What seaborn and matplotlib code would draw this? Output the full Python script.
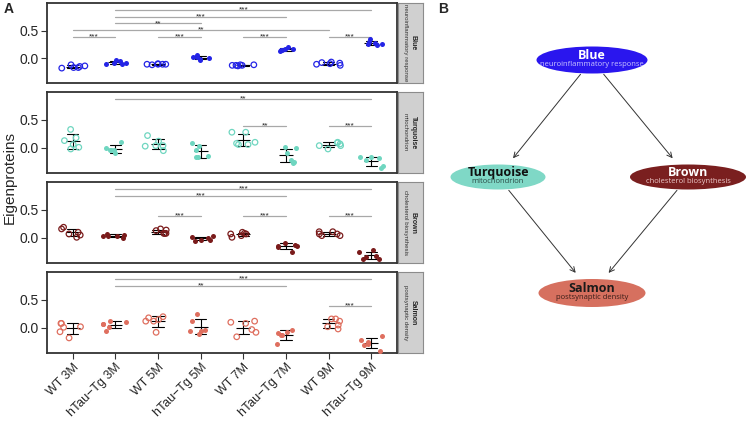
import numpy as np
import pandas as pd
import matplotlib
matplotlib.use("Agg")
import matplotlib.pyplot as plt
import seaborn as sns
from matplotlib.patches import Ellipse

# groups on the x axis
groups = ["WT 3M", "hTau\u2212Tg 3M", "WT 5M", "hTau\u2212Tg 5M",
          "WT 7M", "hTau\u2212Tg 7M", "WT 9M", "hTau\u2212Tg 9M"]
genotype = ["WT", "hTau", "WT", "hTau", "WT", "hTau", "WT", "hTau"]

modules = ["Blue", "Turquoise", "Brown", "Salmon"]
module_terms = ["neuroinflammatory response", "mitochondrion",
                "cholesterol biosynthesis", "postsynaptic density"]
point_colors = ["#2424e6", "#6fd6c0", "#7a1b1b", "#df6f5f"]

# eigenprotein values, one list per group
blue = [[-0.18, -0.15, -0.12, -0.17, -0.14, -0.17],
        [-0.08, -0.10, -0.04, -0.11, -0.05, -0.08],
        [-0.11, -0.11, -0.12, -0.10, -0.11, -0.11],
        [0.02, -0.01, 0.05, -0.04, 0.02, 0.01],
        [-0.12, -0.13, -0.14, -0.12, -0.13, -0.13],
        [0.16, 0.14, 0.20, 0.13, 0.17, 0.15],
        [-0.09, -0.11, -0.07, -0.13, -0.08, -0.10],
        [0.27, 0.25, 0.34, 0.23, 0.30, 0.26]]
turquoise = [[0.13, 0.01, 0.33, -0.02, 0.18, 0.06],
             [-0.04, -0.04, 0.10, -0.10, 0.00, -0.04],
             [0.04, 0.03, 0.22, -0.05, 0.12, 0.04],
             [-0.16, -0.04, 0.09, -0.17, 0.03, -0.14],
             [0.10, 0.06, 0.28, 0.06, 0.28, 0.08],
             [-0.25, -0.10, 0.01, -0.27, 0.00, -0.21],
             [0.04, 0.07, 0.10, -0.02, 0.09, 0.04],
             [-0.19, -0.33, -0.17, -0.36, -0.22, -0.17]]
brown = [[0.05, 0.10, 0.19, 0.01, 0.16, 0.07],
         [0.04, 0.04, 0.07, -0.01, 0.05, 0.04],
         [0.08, 0.13, 0.16, 0.08, 0.14, 0.08],
         [-0.03, 0.00, 0.04, -0.05, 0.01, -0.03],
         [0.07, 0.04, 0.10, 0.01, 0.08, 0.07],
         [-0.15, -0.16, -0.09, -0.25, -0.12, -0.15],
         [0.07, 0.04, 0.11, 0.04, 0.11, 0.07],
         [-0.33, -0.37, -0.22, -0.37, -0.25, -0.35]]
salmon = [[0.02, 0.08, -0.07, -0.18, 0.08, 0.01],
          [0.07, 0.02, 0.12, -0.05, 0.10, 0.07],
          [0.12, 0.15, 0.20, -0.08, 0.18, 0.12],
          [-0.03, -0.05, 0.25, -0.11, 0.13, -0.05],
          [0.08, 0.12, -0.08, -0.16, 0.10, -0.03],
          [-0.08, -0.12, -0.04, -0.29, -0.10, -0.12],
          [0.12, 0.02, 0.16, -0.02, 0.16, 0.05],
          [-0.26, -0.30, -0.14, -0.41, -0.22, -0.29]]
module_values = [blue, turquoise, brown, salmon]

# significance brackets: (group a, group b, label, stacking level)
sig_blue = [("WT 3M", "hTau\u2212Tg 3M", "***", 0), ("WT 5M", "hTau\u2212Tg 5M", "***", 0),
            ("WT 7M", "hTau\u2212Tg 7M", "***", 0), ("WT 9M", "hTau\u2212Tg 9M", "***", 0),
            ("WT 3M", "WT 9M", "**", 1), ("hTau\u2212Tg 3M", "hTau\u2212Tg 5M", "**", 2),
            ("hTau\u2212Tg 3M", "hTau\u2212Tg 7M", "***", 3), ("hTau\u2212Tg 3M", "hTau\u2212Tg 9M", "***", 4)]
sig_turquoise = [("WT 7M", "hTau\u2212Tg 7M", "**", 0), ("WT 9M", "hTau\u2212Tg 9M", "***", 0),
                 ("hTau\u2212Tg 3M", "hTau\u2212Tg 9M", "**", 4)]
sig_brown = [("WT 5M", "hTau\u2212Tg 5M", "***", 0), ("WT 7M", "hTau\u2212Tg 7M", "***", 0),
             ("WT 9M", "hTau\u2212Tg 9M", "***", 0), ("hTau\u2212Tg 3M", "hTau\u2212Tg 7M", "***", 3),
             ("hTau\u2212Tg 3M", "hTau\u2212Tg 9M", "***", 4)]
sig_salmon = [("WT 9M", "hTau\u2212Tg 9M", "***", 0), ("hTau\u2212Tg 3M", "hTau\u2212Tg 7M", "**", 3),
              ("hTau\u2212Tg 3M", "hTau\u2212Tg 9M", "***", 4)]
module_sigs = [sig_blue, sig_turquoise, sig_brown, sig_salmon]

# panel B network
node_colors = ["#2a16ee", "#7fd8c6", "#7a1f1f", "#d6705f"]
node_text_colors = ["white", "#111111", "white", "#1a1a1a"]
node_sub_colors = ["#c9c4ff", "#2b4a45", "#ecc9c9", "#3a1d18"]
edges = [("Blue", "Turquoise"), ("Blue", "Brown"), ("Turquoise", "Salmon"), ("Brown", "Salmon")]

rows = []
for mod, vals in zip(modules, module_values):
    for g, gt, v in zip(groups, genotype, vals):
        for x in v:
            rows.append((mod, g, gt, x))
df = pd.DataFrame(rows, columns=["module", "group", "genotype", "value"])

sns.set_theme(style="ticks")
plt.rcParams["font.family"] = ["Liberation Sans", "DejaVu Sans"]

W, H = 747, 423
fig = plt.figure(figsize=(W / 100, H / 100), dpi=100)


def px_rect(l, t, r, b):
    return [l / W, 1 - b / H, (r - l) / W, (b - t) / H]


np.random.seed(7)
panel_px = [(3, 83), (92, 173), (182, 263), (272, 353)]
for i, mod in enumerate(modules):
    top, bot = panel_px[i]
    ax = fig.add_axes(px_rect(47, top, 397, bot))
    sub = df[df.module == mod]
    col = point_colors[i]

    n0 = len(ax.collections)
    sns.stripplot(data=sub[sub.genotype == "WT"], x="group", y="value", order=groups,
                  color=col, size=4, jitter=0.3, ax=ax)
    for c in ax.collections[n0:]:
        c.set_facecolor("none")
        c.set_edgecolor(col)
        c.set_linewidth(0.9)
    sns.stripplot(data=sub[sub.genotype == "hTau"], x="group", y="value", order=groups,
                  color=col, size=3.6, jitter=0.3, linewidth=0, ax=ax)
    sns.pointplot(data=sub, x="group", y="value", order=groups, errorbar="sd",
                  capsize=0.26, color="black", linestyle="none", marker="_",
                  markersize=10, markeredgewidth=0.8, err_kws={"linewidth": 0.8}, ax=ax)

    for g1, g2, lab, lvl in module_sigs[i]:
        x1, x2 = groups.index(g1), groups.index(g2)
        y = 0.39 + 0.12 * lvl
        ax.plot([x1, x2], [y, y], color="#a8a8a8", lw=0.9, zorder=1)
        ax.text((x1 + x2) / 2, y, lab, ha="center", va="center", fontsize=6, color="#222222")

    ax.set_xlim(-0.6, 7.6)
    ax.set_ylim(-0.45, 1.0)
    ax.set_yticks([0, 0.5])
    ax.set_yticklabels(["0.0", "0.5"])
    ax.set_xlabel("")
    ax.set_ylabel("")
    ax.tick_params(axis="y", length=4, width=0.8, color="#333333", labelsize=10, pad=2)
    for s in ax.spines.values():
        s.set_color("#333333")
        s.set_linewidth(1.3)
    if i < 3:
        ax.tick_params(axis="x", bottom=False, labelbottom=False)
    else:
        ax.set_xticks(range(len(groups)))
        ax.set_xticklabels(groups, rotation=45, ha="right", va="top",
                           rotation_mode="anchor", fontsize=9)
        ax.tick_params(axis="x", length=4, width=0.8, color="#333333", pad=2)

    # facet strip on the right
    sax = fig.add_axes(px_rect(398, top, 423, bot))
    sax.set_facecolor("#d0d0d0")
    sax.set_xticks([])
    sax.set_yticks([])
    for s in sax.spines.values():
        s.set_color("#8c8c8c")
        s.set_linewidth(0.8)
    sax.text(0.62, 0.5, mod, rotation=-90, ha="center", va="center",
             fontsize=5, fontweight="bold", transform=sax.transAxes)
    sax.text(0.30, 0.5, module_terms[i], rotation=-90, ha="center", va="center",
             fontsize=4.4, color="#333333", transform=sax.transAxes)

fig.text(10 / W, 1 - 178 / H, "Eigenproteins", rotation=90, ha="center", va="center", fontsize=11)
fig.text(4 / W, 1 - 9 / H, "A", fontweight="bold", fontsize=10, va="center")
fig.text(438 / W, 1 - 9 / H, "B", fontweight="bold", fontsize=10, va="center")

# panel B: module network
bx = fig.add_axes(px_rect(430, 0, 747, 423))
bx.set_xlim(430, 747)
bx.set_ylim(423, 0)
bx.axis("off")
node_pos = {"Blue": (592, 60), "Turquoise": (498, 177), "Brown": (688, 177), "Salmon": (592, 293)}
node_size = {"Blue": (111, 27), "Turquoise": (95, 25), "Brown": (116, 25), "Salmon": (107, 28)}
ells = {}
for mod, term, fc, tc, sc in zip(modules, module_terms, node_colors, node_text_colors, node_sub_colors):
    cx, cy = node_pos[mod]
    w, h = node_size[mod]
    e = Ellipse((cx, cy), w, h, facecolor=fc, edgecolor="none")
    bx.add_patch(e)
    ells[mod] = e
    bx.text(cx, cy - 4.5, mod, ha="center", va="center", fontsize=9, fontweight="bold",
            color=tc, family=["Open Sans", "DejaVu Sans"])
    bx.text(cx, cy + 4.5, term, ha="center", va="center", fontsize=5.5,
            color=sc, family=["Open Sans", "DejaVu Sans"])
for a, b in edges:
    bx.annotate("", xy=node_pos[b], xytext=node_pos[a],
                arrowprops=dict(arrowstyle="->", color="#333333", lw=0.7,
                                patchA=ells[a], patchB=ells[b], shrinkA=1, shrinkB=6,
                                mutation_scale=9))

fig.savefig("out.png", dpi=100)
